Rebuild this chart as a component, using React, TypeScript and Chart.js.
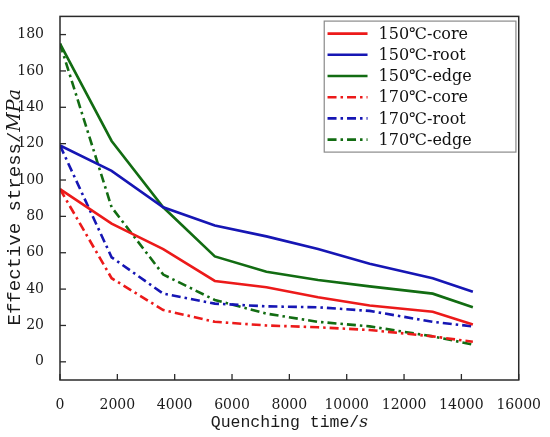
import { useEffect, useRef } from "react";
import { Chart, registerables } from "chart.js";

Chart.register(...registerables);

// ---- data ----
const times = [0, 1800, 3600, 5400, 7200, 9000, 10800, 13000, 14400];
const core150 = [95, 76, 62, 44.5, 41, 35.5, 31, 27.5, 20.5];
const root150 = [119, 105, 85, 75, 69, 62, 54, 46, 38.5];
const edge150 = [175, 121.5, 85, 58, 49.5, 45, 41.5, 37.5, 30];
const core170 = [95, 46, 28.5, 22, 20, 19, 17.5, 14, 11];
const root170 = [119, 57.5, 37.5, 32, 30.5, 30, 28, 22, 19.5];
const edge170 = [175, 85, 48, 34, 26.5, 22, 19.5, 14, 9.5];
const seriesLabels = [
  "150℃-core",
  "150℃-root",
  "150℃-edge",
  "170℃-core",
  "170℃-root",
  "170℃-edge",
];
const xTickValues = [0, 2000, 4000, 6000, 8000, 10000, 12000, 14000, 16000];
const yTickValues = [0, 20, 40, 60, 80, 100, 120, 140, 160, 180];
const xTitleMain = "Quenching time/";
const xTitleUnit = "s";
const yTitleMain = "Effective stress/";
const yTitleUnit = "MPa";

const RED = "#ec1a1a";
const BLUE = "#1616b4";
const GREEN = "#126c12";
const DASHDOT = [9, 4, 2.5, 4];

const seriesValues = [core150, root150, edge150, core170, root170, edge170];
const seriesColors = [RED, BLUE, GREEN, RED, BLUE, GREEN];
const seriesDashed = [false, false, false, true, true, true];

const decorPlugin = {
  id: "decor",
  afterDraw(chart: any) {
    const { ctx, chartArea: a, scales } = chart;
    ctx.save();
    // frame
    ctx.strokeStyle = "#2a2a2a";
    ctx.lineWidth = 1.5;
    ctx.setLineDash([]);
    ctx.strokeRect(a.left, a.top, a.right - a.left, a.bottom - a.top);
    // inward tick marks
    ctx.lineWidth = 1.3;
    for (const t of scales.y.ticks) {
      const p = scales.y.getPixelForValue(t.value);
      ctx.beginPath();
      ctx.moveTo(a.left, p);
      ctx.lineTo(a.left + 6, p);
      ctx.stroke();
    }
    for (const t of scales.x.ticks) {
      const p = scales.x.getPixelForValue(t.value);
      ctx.beginPath();
      ctx.moveTo(p, a.bottom);
      ctx.lineTo(p, a.bottom - 6);
      ctx.stroke();
    }

    // axis titles
    const monoX = "16.5px 'Liberation Mono'";
    const italX = "italic 17px 'DejaVu Serif'";
    ctx.fillStyle = "#1a1a1a";
    ctx.textBaseline = "alphabetic";
    ctx.textAlign = "left";
    ctx.font = monoX;
    const w1 = ctx.measureText(xTitleMain).width;
    ctx.font = italX;
    const w2 = ctx.measureText(xTitleUnit).width;
    const sx = (a.left + a.right) / 2 - (w1 + w2) / 2;
    const by = a.bottom + 46.5;
    ctx.font = monoX;
    ctx.fillText(xTitleMain, sx, by);
    ctx.font = italX;
    ctx.fillText(xTitleUnit, sx + w1, by);

    const monoY = "19px 'Liberation Mono'";
    const italY = "italic 19px 'DejaVu Serif'";
    ctx.font = monoY;
    const v1 = ctx.measureText(yTitleMain).width;
    ctx.font = italY;
    const v2 = ctx.measureText(yTitleUnit).width;
    ctx.save();
    ctx.translate(a.left - 40.5, (a.top + a.bottom) / 2 + 9);
    ctx.rotate(-Math.PI / 2);
    const s0 = -(v1 + v2) / 2;
    ctx.font = monoY;
    ctx.fillText(yTitleMain, s0, 0);
    ctx.font = italY;
    ctx.fillText(yTitleUnit, s0 + v1, 0);
    ctx.restore();

    // legend
    const bx = a.right - 194.5;
    const byy = a.top + 4.7;
    const bw = 191.7;
    const bh = 131;
    ctx.fillStyle = "#ffffff";
    ctx.fillRect(bx, byy, bw, bh);
    ctx.strokeStyle = "#8a8a8a";
    ctx.lineWidth = 1.2;
    ctx.strokeRect(bx, byy, bw, bh);
    ctx.font = "16px 'DejaVu Serif'";
    ctx.textBaseline = "middle";
    chart.data.datasets.forEach((ds: any, i: number) => {
      const cy = byy + 12.5 + i * 21.2;
      ctx.strokeStyle = ds.borderColor;
      ctx.lineWidth = 2.6;
      ctx.setLineDash(ds.borderDash || []);
      ctx.beginPath();
      ctx.moveTo(bx + 3.3, cy);
      ctx.lineTo(bx + 43.3, cy);
      ctx.stroke();
      ctx.setLineDash([]);
      ctx.fillStyle = "#111";
      ctx.fillText(ds.label, bx + 54.3, cy + 1);
    });
    ctx.restore();
  },
};

export default function App() {
  const ref = useRef<HTMLCanvasElement | null>(null);
  useEffect(() => {
    document.body.style.margin = "0";
    if (!ref.current) return;
    const datasets = seriesValues.map((vals, i) => ({
      label: seriesLabels[i],
      data: times.map((t, j) => ({ x: t, y: vals[j] })),
      borderColor: seriesColors[i],
      backgroundColor: seriesColors[i],
      borderWidth: 2.6,
      borderDash: seriesDashed[i] ? DASHDOT : [],
      pointRadius: 0,
      tension: 0,
      fill: false,
    }));
    const tickFont = { family: "'DejaVu Serif'", size: 14 };
    const chart = new Chart(ref.current, {
      type: "line",
      data: { datasets },
      options: {
        animation: false,
        responsive: false,
        layout: { padding: { top: 7, right: 25, left: 0, bottom: 0 } },
        plugins: {
          legend: { display: false },
          tooltip: { enabled: false },
        },
        scales: {
          x: {
            type: "linear",
            min: 0,
            max: 16000,
            afterBuildTicks: (s: any) => {
              s.ticks = xTickValues.map((v) => ({ value: v }));
            },
            ticks: {
              font: tickFont,
              color: "#1a1a1a",
              padding: 9,
              maxRotation: 0,
              autoSkip: false,
              callback: (v: any) => String(v),
            },
            grid: { display: false },
            border: { display: false },
            afterFit: (s: any) => {
              s.height = 57;
            },
          },
          y: {
            type: "linear",
            min: -10,
            max: 190,
            afterBuildTicks: (s: any) => {
              s.ticks = yTickValues.map((v) => ({ value: v }));
            },
            ticks: {
              font: tickFont,
              color: "#1a1a1a",
              padding: 8,
              autoSkip: false,
              callback: (v: any) => String(v),
            },
            grid: { display: false },
            border: { display: false },
            afterFit: (s: any) => {
              s.width = 60;
            },
          },
        },
      } as any,
      plugins: [decorPlugin],
    });
    return () => chart.destroy();
  }, []);
  return (
    <div style={{ position: "absolute", left: 0, top: 0, width: 550, height: 437, background: "#fff" }}>
      <canvas ref={ref} width={550} height={437} style={{ width: 550, height: 437 }} />
    </div>
  );
}
